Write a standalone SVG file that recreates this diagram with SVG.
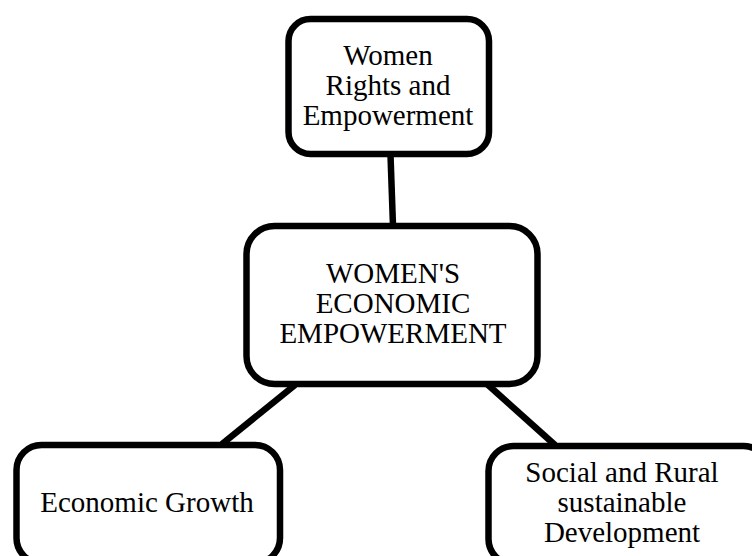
<svg xmlns="http://www.w3.org/2000/svg" width="752" height="556" viewBox="0 0 752 556">
<style>
.box{fill:#fff;stroke:#000;stroke-width:6.5}
.lbl{font-size:29px;fill:#000;text-anchor:middle}
.conn line{stroke:#000;stroke-width:6.5}
</style>
<rect width="752" height="556" fill="#fff"/>
<g id="connectors" class="conn">
<line x1="390.5" y1="155" x2="393" y2="226"/>
<line x1="295" y1="385" x2="222" y2="444"/>
<line x1="487" y1="384" x2="555" y2="445"/>
</g>
<g font-family="Liberation Serif, Times New Roman, DejaVu Serif, serif">
<g id="node-rights">
<rect class="box" x="288.5" y="19" width="200.5" height="135" rx="22"/>
<text class="lbl" x="388" y="65">Women</text>
<text class="lbl" x="388" y="95">Rights and</text>
<text class="lbl" x="388" y="125">Empowerment</text>
</g>
<g id="node-center">
<rect class="box" x="246.5" y="226" width="291" height="158" rx="28"/>
<text class="lbl" x="393" y="283">WOMEN'S</text>
<text class="lbl" x="393" y="313">ECONOMIC</text>
<text class="lbl" x="393" y="343">EMPOWERMENT</text>
</g>
<g id="node-growth">
<rect class="box" x="16.5" y="445" width="263.5" height="118" rx="25"/>
<text class="lbl" x="147" y="512">Economic Growth</text>
</g>
<g id="node-social">
<rect class="box" x="488.5" y="446" width="280" height="118" rx="25"/>
<text class="lbl" x="622" y="482">Social and Rural</text>
<text class="lbl" x="622" y="512">sustainable</text>
<text class="lbl" x="622" y="542">Development</text>
</g>
</g>
</svg>
